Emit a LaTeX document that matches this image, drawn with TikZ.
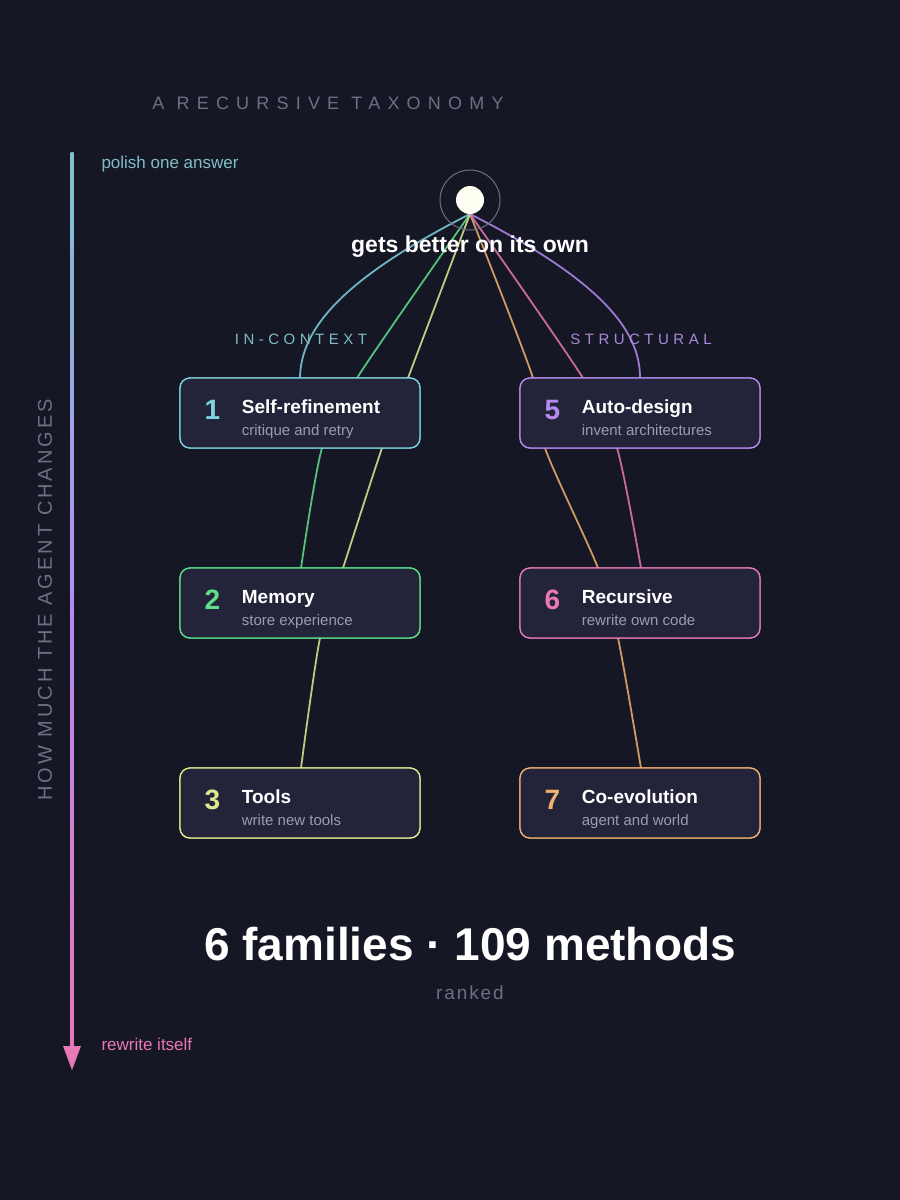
\documentclass[tikz,border=0pt]{standalone}
\usepackage{fontspec}
\setmainfont{Liberation Sans}
\begin{document}
\definecolor{bg}{HTML}{161725}
\definecolor{boxbg}{HTML}{232439}
\definecolor{cA}{HTML}{7DD3E0}
\definecolor{cB}{HTML}{5EE08A}
\definecolor{cC}{HTML}{E0E890}
\definecolor{cE}{HTML}{B48CF0}
\definecolor{cF}{HTML}{E878B8}
\definecolor{cG}{HTML}{F0B070}
\definecolor{gr}{HTML}{6C6F86}
\definecolor{sub}{HTML}{9A9CB4}
\begin{tikzpicture}[x=1pt,y=-1pt,
  box/.style={draw,line width=1.3pt,rounded corners=10pt,fill=boxbg,minimum width=240pt,minimum height=70pt,inner sep=0pt},
  num/.style={font=\fontsize{28}{28}\selectfont\bfseries,anchor=base},
  ttl/.style={font=\fontsize{19}{20}\selectfont\bfseries,text=white,anchor=base west},
  sb/.style={font=\fontsize{15}{16}\selectfont,text=sub,anchor=base west},
  ln/.style={line width=1.8pt,opacity=0.85}]
\fill[bg] (0,0) rectangle (900,1200);
\useasboundingbox (0,0) rectangle (900,1200);
\node[text=gr,font=\fontsize{18}{18}\selectfont\addfontfeatures{LetterSpace=40}] (title) at (328,103) {A RECURSIVE TAXONOMY};
% axis
\shade[top color=cA!80!gray,bottom color=cF,middle color=cE] (70.5,152) rectangle (73.5,1050);
\fill[cF] (63,1046) -- (81,1046) -- (72,1070) -- cycle;
\node[font=\fontsize{17}{17}\selectfont,text=cA!75!gray,anchor=west] (top) at (98,164) {polish one answer};
\node[font=\fontsize{17}{17}\selectfont,text=cF,anchor=west] (bot) at (98,1044) {rewrite itself};
\node[text=gr,rotate=90,font=\fontsize{20}{20}\selectfont\addfontfeatures{LetterSpace=15}] (axl) at (45,600) {HOW MUCH THE AGENT CHANGES};
% boxes
\node[box,draw=cA] (b1) at (300,413) {};
\node[box,draw=cB] (b2) at (300,603) {};
\node[box,draw=cC] (b3) at (300,803) {};
\node[box,draw=cE] (b5) at (640,413) {};
\node[box,draw=cF] (b6) at (640,603) {};
\node[box,draw=cG] (b7) at (640,803) {};
\coordinate (r) at (470,214);
\draw[ln,cA] (r) .. controls (340,280) and (301,330) .. (b1.north);
\draw[ln,cE] (r) .. controls (600,280) and (640,330) .. (b5.north);
\draw[ln,cB] plot[smooth,tension=0.45] coordinates {(470,214) (357,378) (322,448) (301,568)};
\draw[ln,cC] plot[smooth,tension=0.45] coordinates {(470,214) (408,378) (382,448) (343,568) (320,638) (301,768)};
\draw[ln,cG] plot[smooth,tension=0.45] coordinates {(470,214) (533,378) (545,448) (598,568) (618,638) (641,768)};
\draw[ln,cF] plot[smooth,tension=0.45] coordinates {(470,214) (583,378) (617,448) (641,568)};
\foreach \n/\c in {b1/cA,b2/cB,b3/cC,b5/cE,b6/cF,b7/cG}{\node[box,draw=\c] at (\n) {};}
% root
\draw[gr,line width=1pt] (470,200) circle (30);
\node[circle,fill=white!95!yellow,minimum size=28pt,inner sep=0pt] (root) at (470,200) {};
\node[font=\fontsize{23}{23}\selectfont\bfseries,text=white] (gb) at (470,247) {gets better on its own};
\node[text=cA!75!gray,font=\fontsize{15}{15}\selectfont\addfontfeatures{LetterSpace=30}] (ic) at (301,339) {IN-CONTEXT};
\node[text=cE!80!gray,font=\fontsize{15}{15}\selectfont\addfontfeatures{LetterSpace=30}] (st) at (641,339) {STRUCTURAL};
% box texts
\foreach \n/\c/\k/\t/\s in {b1/cA/1/Self-refinement/critique and retry, b2/cB/2/Memory/store experience, b3/cC/3/Tools/write new tools, b5/cE/5/Auto-design/invent architectures, b6/cF/6/Recursive/rewrite own code, b7/cG/7/Co-evolution/agent and world}{
  \node[num,text=\c] at ([xshift=33pt,yshift=-6pt]\n.west) {\k};
  \node[ttl] at ([xshift=59pt,yshift=0pt]\n.west) {\t};
  \node[sb] at ([xshift=59pt,yshift=-22pt]\n.west) {\s};
}
\node[font=\fontsize{46}{46}\selectfont\bfseries,text=white] (big) at (470,944) {6 families · 109 methods};
\node[font=\fontsize{19}{19}\selectfont\addfontfeatures{LetterSpace=10},text=gr] (rk) at (470,993) {ranked};
\end{tikzpicture}
\end{document}
